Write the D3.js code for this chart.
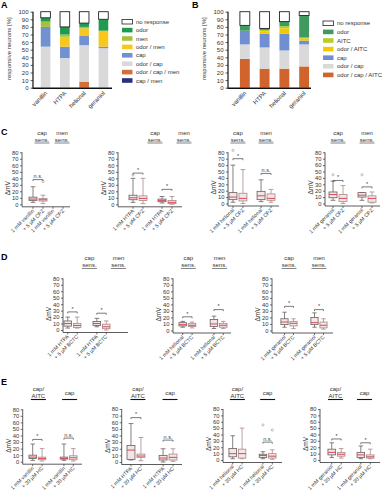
<!DOCTYPE html>
<html>
<head>
<meta charset="utf-8">
<script src="https://cdn.jsdelivr.net/npm/d3@7"></script>
<style>
body{margin:0;background:#fff}
svg{display:block;font-family:"Liberation Sans",Arial,sans-serif}
</style>
</head>
<body>
<div id="chart"></div>
<script>
// ---------- data: panels A and B (stacked %, bottom -> top) ----------
var odorants = ["vanillin", "HTPA", "helional", "geraniol"];

var keysA = ["cap / men", "odor / cap / men", "odor / cap", "cap", "odor / men", "men", "odor", "no response"];
var capMenA     = [0, 0, 0, 0];
var odorCapMenA = [0, 0, 8, 0];
var odorCapA    = [54, 39, 48, 52];
var capA        = [26, 15, 12, 2];
var odorMenA    = [0, 13, 10, 21];
var menA        = [7, 3, 2, 0];
var odorA       = [5, 10, 5, 15];
var noRespA     = [8, 20, 15, 10];

var keysB = ["odor / cap / AITC", "odor / cap", "cap", "odor / AITC", "AITC", "odor", "no response"];
var odorCapAitcB = [38, 25, 25, 28];
var odorCapB     = [19, 28, 24, 29];
var capB         = [18, 18, 22, 5];
var odorAitcB    = [0, 3, 7, 3];
var aitcB        = [0, 2, 3, 1];
var odorB        = [7, 2, 6, 29];
var noRespB      = [18, 22, 13, 5];

var pctTicks = d3.range(0, 101, 10);
var mvTicks = d3.range(0, 81, 10);

// ---------- data: panels C, D, E (min, q1, median, q3, max) ----------
var hdrSens = [["cap", "sens."], ["men", "sens."]];
var hdrAitc = [["cap/", "AITC"], ["cap"]];

var labC1 = ["1 mM vanillin", "+ 5 µM CPZ", "1 mM vanillin", "+ 5 µM CPZ"];
var statC1 = [[3, 6, 8, 11, 27], [1, 5, 7, 9, 14], null, null];
var outC1 = [[], [35], [], []];
var sigC1 = [[0, 38, "n.s."]];

var labC2 = ["1 mM HTPA", "+ 5 µM CPZ", "1 mM HTPA", "+ 5 µM CPZ"];
var statC2 = [[3, 7, 10, 14, 40], [1, 6, 9, 13, 40], [2, 4, 6, 8, 12], [0, 1, 3, 6, 12]];
var outC2 = [[45], [], [], []];
var sigC2 = [[0, 48, "*"], [1, 23, "*"]];

var labC3 = ["1 mM helional", "+ 5 µM CPZ", "1 mM helional", "+ 5 µM CPZ"];
var statC3 = [[2, 6, 10, 17, 60], [0, 4, 8, 16, 53], [3, 6, 12, 19, 37], [2, 5, 8, 15, 22]];
var outC3 = [[83], [], [], []];
var sigC3 = [[0, 70, "*"], [1, 47, "n.s."]];

var labC4 = ["1 mM geraniol", "+ 5 µM CPZ", "1 mM geraniol", "+ 5 µM CPZ"];
var statC4 = [[5, 9, 14, 18, 35], [0, 3, 8, 14, 28], [5, 10, 13, 17, 17], [1, 2, 8, 12, 18]];
var outC4 = [[45], [], [45], []];
var sigC4 = [[0, 36, "*"], [1, 26, "*"]];

var labD1 = ["1 mM HTPA", "+ 5 µM BCTC", "1 mM HTPA", "+ 5 µM BCTC"];
var statD1 = [[3, 6, 10, 14, 20], [3, 4, 7, 10, 20], [5, 7, 10, 13, 18], [0, 2, 5, 9, 14]];
var outD1 = [[], [], [], []];
var sigD1 = [[0, 28, "*"], [1, 26, "*"]];

var labD2 = ["1 mM helional", "+ 5 µM BCTC", "1 mM helional", "+ 5 µM BCTC"];
var statD2 = [[5, 7, 9, 12, 14], [4, 6, 8, 11, 13], [3, 6, 10, 17, 22], [3, 5, 8, 11, 14]];
var outD2 = [[], [], [], []];
var sigD2 = [[0, 21, "*"], [1, 32, "*"]];

var labD3 = ["1 mM geraniol", "+ 5 µM BCTC", "1 mM geraniol", "+ 5 µM BCTC"];
var statD3 = [[5, 9, 13, 18, 28], [3, 7, 11, 14, 18], [5, 9, 12, 20, 27], [2, 4, 8, 13, 18]];
var outD3 = [[], [], [], []];
var sigD3 = [[0, 37, "*"], [1, 32, "*"]];

var labE1 = ["1 mM vanillin", "+ 30 µM HC", "1 mM vanillin", "+ 30 µM HC"];
var statE1 = [[2, 5, 7, 10, 27], [1, 3, 5, 7, 20], [2, 4, 5, 7, 27], [1, 3, 6, 9, 20]];
var outE1 = [[], [], [], []];
var sigE1 = [[0, 34, "*"], [1, 36, "n.s."]];

var labE2 = ["1 mM HTPA", "+ 30 µM HC", "1 mM HTPA", "+ 30 µM HC"];
var statE2 = [[3, 4, 18, 25, 58], [2, 7, 9, 12, 37], [0, 3, 6, 10, 20], [1, 3, 7, 12, 20]];
var outE2 = [[], [], [], []];
var sigE2 = [[0, 67, "*"], [1, 33, "n.s."]];

var labE3 = ["1 mM helional", "+ 30 µM HC", "1 mM helional", "+ 30 µM HC"];
var statE3 = [[2, 5, 10, 18, 38], [2, 3, 10, 17, 50], [2, 4, 7, 9, 13], [1, 3, 6, 10, 16]];
var outE3 = [[], [], [55], [47]];
var sigE3 = [[1, 28, "n.s."]];

var labE4 = ["1 mM geraniol", "+ 30 µM HC", "1 mM geraniol", "+ 30 µM HC"];
var statE4 = [[4, 8, 12, 17, 27], [3, 6, 9, 12, 18], [2, 4, 8, 12, 22], [2, 3, 5, 8, 17]];
var outE4 = [[], [], [], []];
var sigE4 = [[0, 33, "*"], [1, 27, "*"]];

// ---------- styles ----------
var colA = ["#2b2f7e", "#d2703c", "#d9d9d9", "#7291d0", "#f7c71c", "#a7c03c", "#1f9a4f", "#ffffff"];
var colB = ["#d0642c", "#d9d9d9", "#6f8fd2", "#f5c800", "#b8cc2a", "#3e9a5e", "#ffffff"];
var ink = "#333";

var svg = d3.select("#chart").append("svg")
    .attr("width", 387)
    .attr("height", 500);

function letter(t, x, y) {
  svg.append("text").attr("x", x).attr("y", y)
    .attr("font-size", 9).attr("font-weight", "bold").text(t);
}

// stacked percentage bars
function stackPanel(L, keys, vals, cols) {
  var rows = odorants.map(function(c, i) {
    var r = { cat: c };
    keys.forEach(function(k, j) { r[k] = vals[j][i]; });
    return r;
  });
  var series = d3.stack().keys(keys)(rows);

  var x = d3.scaleBand().domain(odorants).range(L.xr)
    .paddingInner(0.5).paddingOuter(L.po);
  var y = d3.scaleLinear().domain([0, 100]).range([L.bot, L.top]);
  var g = svg.append("g");

  series.forEach(function(s, j) {
    g.selectAll(null).data(s).enter().append("rect")
      .attr("x", function(d) { return x(d.data.cat); })
      .attr("width", x.bandwidth())
      .attr("y", function(d) { return y(d[1]); })
      .attr("height", function(d) { return y(d[0]) - y(d[1]); })
      .attr("fill", cols[j])
      .attr("stroke", keys[j] == "no response" ? "#222" : "none")
      .attr("stroke-width", 0.9);
  });

  // y axis
  var ya = g.append("g").attr("transform", "translate(" + L.ax + ",0)")
    .call(d3.axisLeft(y).tickValues(pctTicks).tickSize(2.5).tickSizeOuter(0).tickPadding(2));
  ya.select(".domain").remove();
  ya.selectAll("text").attr("font-size", 6).attr("fill", ink);
  ya.selectAll("line").attr("stroke", ink).attr("stroke-width", 0.8);
  g.append("line").attr("x1", L.ax).attr("x2", L.ax).attr("y1", L.top).attr("y2", L.bot + 1)
    .attr("stroke", "#111").attr("stroke-width", 1.2);
  g.append("line").attr("x1", L.ax).attr("x2", L.x1).attr("y1", L.bot + 0.5).attr("y2", L.bot + 0.5)
    .attr("stroke", "#111").attr("stroke-width", 1.4);

  odorants.forEach(function(c) {
    var cx = x(c) + x.bandwidth() / 2;
    g.append("text")
      .attr("transform", "translate(" + (cx + 2) + "," + (L.bot + 6) + ") rotate(-45)")
      .attr("text-anchor", "end").attr("font-size", 6).attr("fill", ink).text(c);
  });

  g.append("text")
    .attr("transform", "translate(" + (L.ax - 22) + "," + ((L.top + L.bot) / 2 - 1) + ") rotate(-90)")
    .attr("text-anchor", "middle").attr("font-size", 6).attr("fill", ink)
    .text("responsive neurons [%]");

  // legend, top entry = last stack key
  var lk = keys.slice().reverse();
  var lc = cols.slice().reverse();
  lk.forEach(function(k, i) {
    var yy = L.ly + i * L.ls;
    g.append("rect").attr("x", L.lx).attr("y", yy - 2.3).attr("width", 10.5).attr("height", 4.6)
      .attr("fill", lc[i]).attr("stroke", k == "no response" ? "#222" : "none").attr("stroke-width", 0.8);
    g.append("text").attr("x", L.lx + 14).attr("y", yy + 2).attr("font-size", 6)
      .attr("fill", ink).text(k);
  });
}

// box plots with two groups of two conditions
function boxPanel(L, labs, stats, outs, sigs, hdr) {
  var g = svg.append("g");
  var y = d3.scaleLinear().domain([0, 80]).range([L.bot, L.top]);
  var outer = d3.scaleBand().domain([0, 1]).range(L.gr).paddingInner(L.pin);
  var inner = d3.scaleBand().domain([0, 1]).range([0, outer.bandwidth()])
    .paddingInner(0.2).paddingOuter(0.1);
  var bw = inner.bandwidth();
  var cx = function(i) { return outer(i >> 1) + inner(i % 2) + bw / 2; };
  var xl = L.bot + 2.5;

  var ya = g.append("g").attr("transform", "translate(" + L.ax + ",0)")
    .call(d3.axisLeft(y).tickValues(mvTicks).tickSize(2).tickSizeOuter(0).tickPadding(1.5));
  ya.select(".domain").remove();
  ya.selectAll("text").attr("font-size", 5.8).attr("fill", ink);
  ya.selectAll("line").attr("stroke", ink).attr("stroke-width", 0.7);
  g.append("line").attr("x1", L.ax).attr("x2", L.ax).attr("y1", L.top).attr("y2", xl)
    .attr("stroke", ink).attr("stroke-width", 0.8);
  g.append("line").attr("x1", L.ax).attr("x2", L.x1).attr("y1", xl).attr("y2", xl)
    .attr("stroke", ink).attr("stroke-width", 0.8);

  g.append("text")
    .attr("transform", "translate(" + (L.ax - 12) + "," + (L.bot - 16) + ") rotate(-90)")
    .attr("text-anchor", "middle").attr("font-size", 6.5).attr("fill", ink).text("ΔmV");

  labs.forEach(function(t, i) {
    var x = cx(i);
    g.append("line").attr("x1", x).attr("x2", x).attr("y1", xl).attr("y2", xl + 2)
      .attr("stroke", ink).attr("stroke-width", 0.7);
    g.append("text")
      .attr("transform", "translate(" + (x + 1.5) + "," + (xl + 4.5) + ") rotate(-45)")
      .attr("text-anchor", "end").attr("font-size", 5.2).attr("fill", ink).text(t);
  });

  stats.forEach(function(s, i) {
    if (!s) return;
    var x = cx(i);
    var col = i % 2 ? "#a98888" : "#6a5f5f";
    g.append("line").attr("x1", x).attr("x2", x).attr("y1", y(s[0])).attr("y2", y(s[4]))
      .attr("stroke", col).attr("stroke-width", 0.8);
    [s[0], s[4]].forEach(function(v) {
      g.append("line").attr("x1", x - bw * 0.3).attr("x2", x + bw * 0.3)
        .attr("y1", y(v)).attr("y2", y(v)).attr("stroke", col).attr("stroke-width", 0.8);
    });
    g.append("rect").attr("x", x - bw / 2).attr("width", bw)
      .attr("y", y(s[3])).attr("height", y(s[1]) - y(s[3]))
      .attr("fill", "#f3e6e6").attr("stroke", col).attr("stroke-width", 0.8);
    g.append("line").attr("x1", x - bw / 2).attr("x2", x + bw / 2)
      .attr("y1", y(s[2])).attr("y2", y(s[2])).attr("stroke", "#d84a5c").attr("stroke-width", 1);
  });

  outs.forEach(function(o, i) {
    o.forEach(function(v) {
      g.append("circle").attr("cx", cx(i)).attr("cy", y(v)).attr("r", 1.1)
        .attr("fill", "none").attr("stroke", "#999").attr("stroke-width", 0.6);
    });
  });

  sigs.forEach(function(s) {
    var xa = cx(s[0] * 2), xb = cx(s[0] * 2 + 1), yy = y(s[1]);
    g.append("path").attr("d", "M" + xa + "," + (yy + 1.5) + "V" + yy + "H" + xb + "V" + (yy + 1.5))
      .attr("fill", "none").attr("stroke", "#444").attr("stroke-width", 0.7);
    g.append("text").attr("x", (xa + xb) / 2).attr("y", yy - 1.2)
      .attr("text-anchor", "middle").attr("font-size", 5.5).attr("fill", "#444").text(s[2]);
  });

  hdr.forEach(function(h, j) {
    var hx = outer(j) + outer.bandwidth() / 2 + L.hoff;
    g.append("line").attr("x1", hx - 7.5).attr("x2", hx + 7.5).attr("y1", L.hy).attr("y2", L.hy)
      .attr("stroke", L.hc).attr("stroke-width", L.hw);
    h.forEach(function(t, k) {
      var by = h.length == 1 ? L.hy - 5 : L.hy - 8.5 + k * 7;
      g.append("text").attr("x", hx).attr("y", by).attr("text-anchor", "middle")
        .attr("font-size", 6).attr("fill", ink).text(t);
    });
  });
}

// ---------- panels ----------
letter("A", 1, 8);
stackPanel({ ax: 33, x1: 112, xr: [34, 115], po: 0.35, top: 11.7, bot: 87.7, lx: 122, ly: 21.7, ls: 8.4 },
  keysA, [capMenA, odorCapMenA, odorCapA, capA, odorMenA, menA, odorA, noRespA], colA);

letter("B", 192, 8);
stackPanel({ ax: 228, x1: 311, xr: [232, 317], po: 0.4, top: 11.7, bot: 87.7, lx: 323, ly: 23.3, ls: 8.6 },
  keysB, [odorCapAitcB, odorCapB, capB, odorAitcB, aitcB, odorB, noRespB], colB);

var hC = { hy: 143, hc: "#666", hw: 0.8 };
var hD = { hy: 268.5, hc: "#666", hw: 0.8 };
var hE = { hy: 399.5, hc: "#111", hw: 1.1 };
function lay(a, b) { return Object.assign({}, a, b); }

letter("C", 1, 135);
boxPanel(lay(hC, { ax: 22, x1: 70, top: 152.3, bot: 204.3, gr: [28, 68], pin: 0, hoff: 4 }), labC1, statC1, outC1, sigC1, hdrSens);
boxPanel(lay(hC, { ax: 118, x1: 182, top: 152.3, bot: 204.3, gr: [128, 177], pin: 0.31, hoff: 17 }), labC2, statC2, outC2, sigC2, hdrSens);
boxPanel(lay(hC, { ax: 228, x1: 279, top: 152.3, bot: 203.5, gr: [228, 276], pin: 0.29, hoff: 0 }), labC3, statC3, outC3, sigC3, hdrSens);
boxPanel(lay(hC, { ax: 325, x1: 380, top: 152.3, bot: 203.5, gr: [328, 377], pin: 0.31, hoff: 0 }), labC4, statC4, outC4, sigC4, hdrSens);

letter("D", 1, 260);
boxPanel(lay(hD, { ax: 63, x1: 128, top: 278.3, bot: 330, gr: [63, 111], pin: 0.35, hoff: 17 }), labD1, statD1, outD1, sigD1, hdrSens);
boxPanel(lay(hD, { ax: 173, x1: 231, top: 278.3, bot: 330.5, gr: [178, 228], pin: 0.4, hoff: 1 }), labD2, statD2, outD2, sigD2, hdrSens);
boxPanel(lay(hD, { ax: 272, x1: 333, top: 278.3, bot: 330.5, gr: [280, 328], pin: 0.4, hoff: 0 }), labD3, statD3, outD3, sigD3, hdrSens);

letter("E", 1, 385);
boxPanel(lay(hE, { ax: 22.7, x1: 82, top: 409.3, bot: 461.7, gr: [28, 78], pin: 0.4, hoff: 1 }), labE1, statE1, outE1, sigE1, hdrAitc);
boxPanel(lay(hE, { ax: 121.7, x1: 182, top: 409, bot: 462, gr: [126, 178], pin: 0.38, hoff: 2 }), labE2, statE2, outE2, sigE2, hdrAitc);
boxPanel(lay(hE, { ax: 223, x1: 282, top: 409, bot: 460, gr: [228, 277], pin: 0.38, hoff: 0 }), labE3, statE3, outE3, sigE3, hdrAitc);
boxPanel(lay(hE, { ax: 320, x1: 380, top: 409, bot: 460, gr: [327, 375], pin: 0.35, hoff: -1 }), labE4, statE4, outE4, sigE4, hdrAitc);
</script>
</body>
</html>
